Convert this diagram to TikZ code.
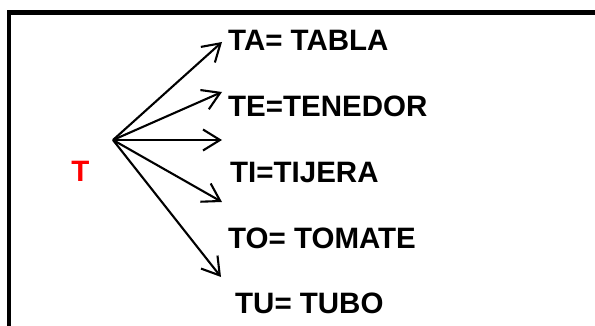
\documentclass[tikz,border=0pt]{standalone}
\usepackage{fontspec}
\setmainfont{Liberation Sans}
\usetikzlibrary{arrows.meta}
\tikzstyle{word} = [font=\fontsize{29.5}{34}\selectfont\bfseries, inner sep=0pt, anchor=base west]
\tikzstyle{letter} = [word, text=red, anchor=base]
\tikzstyle{line} = [draw, line width=2.1pt, -{Straight Barb[length=17pt, width=21pt, line width=2.1pt]}]
\tikzstyle{frame} = [draw, line width=4.5pt]

\begin{document}
\begin{tikzpicture}[x=1pt, y=-1pt]
		\useasboundingbox (0,0) rectangle (595,326);
		\clip (0,0) rectangle (595,326);
		\path [frame] (9,12.5) rectangle (640,360);
		
		\node [letter] (T) at (80.5,182) {T};
		\coordinate (hub) at (113,140);
		\coordinate (ta) at (222,42);
		\coordinate (te) at (222,92);
		\coordinate (mid) at (222,140);
		\coordinate (ti) at (222,202);
		\coordinate (tu) at (221,277);
		
		\node [word] (tabla) at (228,51) {TA= TABLA};
		\node [word] (tenedor) at (228,117) {TE=TENEDOR};
		\node [word] (tijera) at (230,183) {TI=TIJERA};
		\node [word] (tomate) at (228,248) {TO= TOMATE};
		\node [word] (tubo) at (235,313) {TU= TUBO};
		
		\path [line] (hub) -- (ta);
		\path [line] (hub) -- (te);
		\path [line] (hub) -- (mid);
		\path [line] (hub) -- (ti);
		\path [line] (hub) -- (tu);
		\end{tikzpicture}
\end{document}
